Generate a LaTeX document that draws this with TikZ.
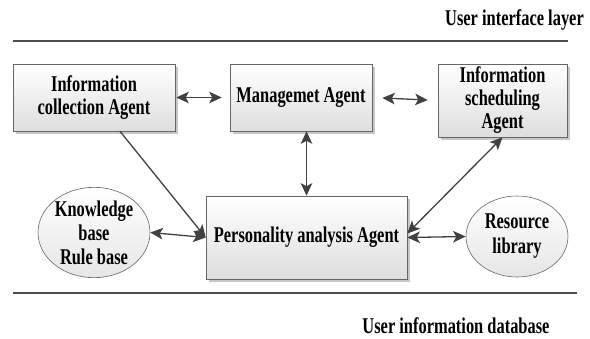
\documentclass[tikz,border=0pt]{standalone}
\usepackage{fontspec}
\setmainfont{Liberation Serif}[FakeStretch=0.73]
\usetikzlibrary{arrows.meta,shadows,shapes.geometric}
\begin{document}
\begin{tikzpicture}[x=1pt,y=-1pt,
  >={Stealth[length=12.5pt,width=11.5pt,inset=3pt]},
  every node/.style={font=\fontsize{22.5}{23}\selectfont\bfseries,align=center,inner sep=0pt},
  agentbox/.style={draw=black!60,line width=0.6pt,top color=white,bottom color=black!13,
    drop shadow={shadow xshift=2.5pt,shadow yshift=-2.5pt,fill=black!22,opacity=1}},
  basebox/.style={ellipse,draw=black!60,line width=0.6pt,top color=white,bottom color=black!10},
  link/.style={draw=black!75,line width=1.3pt},
  layer/.style={draw=black!70,line width=1.4pt}]
\useasboundingbox (0,0) rectangle (590,338);

% layers
\draw[layer] (13,41) -- (568,41);
\draw[layer] (13,293) -- (577,293);
\node[anchor=east] (uil) at (584,20) {User interface layer};
\node (uid) at (456,326) {User information database};

% agents
\node[agentbox,minimum width=162pt,minimum height=67pt] (collect) at (94,97.5) {Information\\collection Agent};
\node[agentbox,minimum width=142pt,minimum height=67pt] (manage) at (301,97.5) {Managemet Agent};
\node[agentbox,minimum width=129pt,minimum height=73pt] (sched) at (502.5,100.5) {Information\\scheduling\\Agent};
\node[agentbox,minimum width=201pt,minimum height=83pt] (person) at (306.5,237.5) {Personality analysis Agent};

% bases
\node[basebox,minimum width=112pt,minimum height=75pt,font=\fontsize{22.5}{24}\selectfont\bfseries] (know) at (94,232.5) {Knowledge\\base\\Rule base};
\node[basebox,minimum width=102pt,minimum height=81pt,font=\fontsize{22.5}{25}\selectfont\bfseries] (res) at (517,236.5) {Resource\\library};

% links
\draw[link,<->,shorten <=1pt,shorten >=8pt] (collect.east) -- (manage.west);
\draw[link,<->,shorten <=10pt,shorten >=10pt] (manage.east) -- (sched.west);
\draw[link,<->] (person.north) -- (person.north |- manage.south);
\draw[link,->] ([xshift=26pt]collect.south) -- (person.west);
\draw[link,<->] (know.east) -- (person.west);
\draw[link,<->] (sched.south) -- ([yshift=4pt]person.east);
\draw[link,<->] (person.east) -- (res.west);
\end{tikzpicture}
\end{document}
